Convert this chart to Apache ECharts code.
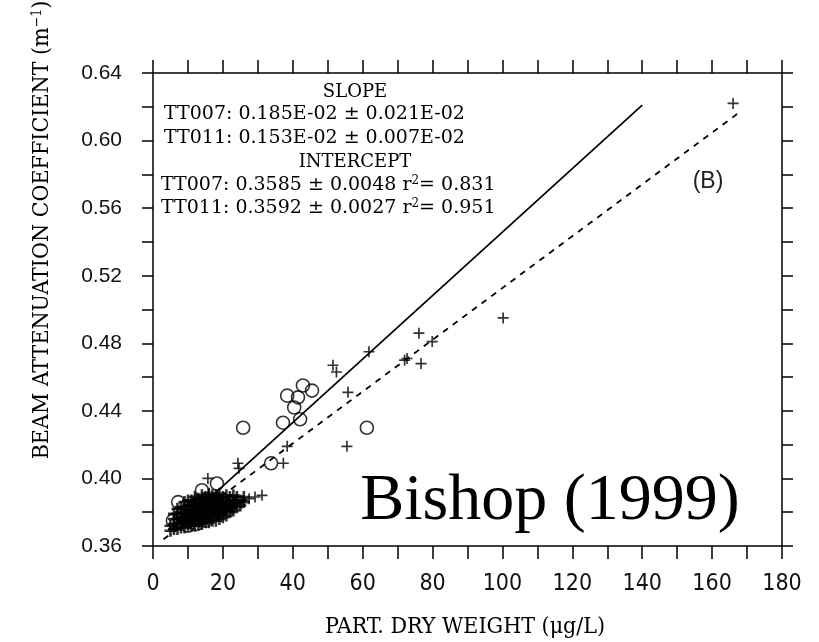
<!DOCTYPE html>
<html><head><meta charset="utf-8">
<script src="https://cdn.jsdelivr.net/npm/echarts@6/dist/echarts.min.js"></script>
<style>html,body{margin:0;padding:0;background:#fff}#c{width:819px;height:642px}</style>
</head><body><div id="c"></div>
<script>
// Axis setup
var xMin = 0, xMax = 180, xStep = 10;
var yMin = 0.36, yMax = 0.64, yStep = 0.02;

// TT007 (open circles)
var tt007 = [
  [5.7,0.375],[7.2,0.386],[14.0,0.393],[18.3,0.397],[25.8,0.430],[33.8,0.409],
  [37.2,0.433],[38.4,0.449],[40.4,0.442],[41.5,0.448],[42.1,0.435],[42.9,0.455],
  [45.5,0.452],[61.2,0.430],
  [10.0,0.372],[12.5,0.373],[15.0,0.375]
];

// TT011 (plus signs) outside the dense cluster
var tt011 = [
  [166.0,0.622],[100.2,0.495],[76.1,0.486],[79.9,0.481],[72.7,0.471],[72.0,0.470],
  [76.7,0.468],[61.8,0.475],[55.8,0.451],[55.5,0.419],[51.5,0.467],[52.5,0.463],
  [38.4,0.419],[24.3,0.409],[24.6,0.406],[37.3,0.409],[15.7,0.400],[25.8,0.387],
  [27.5,0.388],[29.2,0.389],[31.2,0.390]
];

// Dense cluster of low-concentration samples (both cruises, overprinted)
var cluster = [
  [5,0.369],[5,0.372],
  [6,0.370],[6,0.373],[6,0.376],[6,0.379],
  [7,0.370],[7,0.373],[7,0.376],[7,0.379],[7,0.382],
  [8,0.371],[8,0.374],[8,0.377],[8,0.380],[8,0.383],
  [9,0.371],[9,0.374],[9,0.377],[9,0.380],[9,0.383],[9,0.386],
  [10,0.372],[10,0.375],[10,0.378],[10,0.381],[10,0.384],[10,0.387],
  [11,0.372],[11,0.375],[11,0.378],[11,0.381],[11,0.384],[11,0.387],
  [12,0.372],[12,0.375],[12,0.378],[12,0.381],[12,0.384],[12,0.387],[12,0.389],
  [13,0.373],[13,0.376],[13,0.379],[13,0.382],[13,0.385],[13,0.388],
  [14,0.373],[14,0.376],[14,0.379],[14,0.382],[14,0.385],[14,0.388],[14,0.390],
  [15,0.374],[15,0.377],[15,0.380],[15,0.383],[15,0.386],[15,0.389],
  [16,0.374],[16,0.377],[16,0.380],[16,0.383],[16,0.386],[16,0.389],[16,0.391],
  [17,0.375],[17,0.378],[17,0.381],[17,0.384],[17,0.387],[17,0.390],
  [18,0.375],[18,0.378],[18,0.381],[18,0.384],[18,0.387],[18,0.390],
  [19,0.376],[19,0.379],[19,0.382],[19,0.385],[19,0.388],[19,0.391],
  [20,0.377],[20,0.380],[20,0.383],[20,0.386],[20,0.389],
  [21,0.378],[21,0.381],[21,0.384],[21,0.387],[21,0.390],
  [22,0.380],[22,0.383],[22,0.386],[22,0.389],
  [23,0.381],[23,0.384],[23,0.387],[23,0.390],
  [24,0.383],[24,0.386],[24,0.389],
  [25,0.384],[25,0.387],
  [26,0.386],[26,0.389],
  [8.5,0.3755],[9.5,0.3785],[10.5,0.3735],[10.5,0.3815],[11.5,0.3765],[11.5,0.3855],
  [12.5,0.3795],[13.5,0.3745],[13.5,0.3835],[14.5,0.3775],[14.5,0.3865],[15.5,0.3815],
  [16.5,0.3785],[16.5,0.3875],[17.5,0.3825],[18.5,0.3795],[18.5,0.3885],[19.5,0.3845],
  [20.5,0.3815],[21.5,0.3855],[22.5,0.3825],[23.5,0.3855]
];

// Regression lines (endpoints)
var fit007 = [[8,0.373],[140,0.621]];
var fit011 = [[3,0.364],[168,0.617]];

// Annotation text
var annoLines = [
  'SLOPE',
  'TT007: 0.185E-02 \u00b1 0.021E-02',
  'TT011: 0.153E-02 \u00b1 0.007E-02',
  'INTERCEPT',
  'TT007: 0.3585 \u00b1 0.0048 ',
  'TT011: 0.3592 \u00b1 0.0027 '
];
var r2 = ['0.831','0.951'];

var serif = "'DejaVu Serif', serif";
var condSerif = "'DejaVu Serif Condensed','Liberation Serif',serif";
var black = '#000';
var chart = echarts.init(document.getElementById('c'));
var axisLine = {show:true, onZero:false, lineStyle:{color:black, width:1.5}};
var tickX = {show:true, inside:false, length:13, lineStyle:{color:black, width:1.5}};
var tickY = {show:true, inside:false, length:11, lineStyle:{color:black, width:1.5}};
var plusPath = 'path://M0,5L10,5M5,0L5,10';

chart.setOption({
  animation:false,
  backgroundColor:'#fff',
  grid:{left:153, right:37, top:73, bottom:96},
  xAxis:[
    {type:'value', min:xMin, max:xMax, interval:xStep, position:'bottom',
     axisLine:axisLine, axisTick:tickX, splitLine:{show:false},
     axisLabel:{margin:27, fontSize:23, color:'#111', fontFamily:"'Liberation Sans Narrow','DejaVu Sans Condensed',sans-serif",
       formatter:function(v){return (Math.round(v)%20===0)?String(Math.round(v)):'';}}},
    {type:'value', min:xMin, max:xMax, interval:xStep, position:'top',
     axisLine:axisLine, axisTick:tickX, splitLine:{show:false}, axisLabel:{show:false}}
  ],
  yAxis:[
    {type:'value', min:yMin, max:yMax, interval:yStep, position:'left',
     axisLine:axisLine, axisTick:tickY, splitLine:{show:false},
     axisLabel:{margin:31, fontSize:21, color:'#111', fontFamily:"'Liberation Sans',Arial,sans-serif",
       formatter:function(v){return (Math.round(v*100)%4===0)?v.toFixed(2):'';}}},
    {type:'value', min:yMin, max:yMax, interval:yStep, position:'right',
     axisLine:axisLine, axisTick:tickY, splitLine:{show:false}, axisLabel:{show:false}}
  ],
  series:[
    {type:'line', data:fit007, symbol:'none', lineStyle:{color:black, width:1.7}, z:3},
    {type:'line', data:fit011, symbol:'none', lineStyle:{color:black, width:1.8, type:[6,6]}, z:3},
    {type:'scatter', data:cluster, symbol:plusPath, symbolSize:12,
     itemStyle:{color:'rgba(0,0,0,0)', borderColor:black, borderWidth:2.6}, z:4},
    {type:'scatter', data:tt011, symbol:plusPath, symbolSize:11,
     itemStyle:{color:'rgba(0,0,0,0)', borderColor:black, borderWidth:1.7}, z:4},
    {type:'scatter', data:tt007, symbol:'circle', symbolSize:13,
     itemStyle:{color:'rgba(0,0,0,0)', borderColor:black, borderWidth:1.6}, z:5}
  ],
  graphic:[
    {type:'text', x:355, y:92, style:{text:annoLines[0], font:'18px '+serif, fill:black, align:'center', verticalAlign:'middle'}},
    {type:'text', x:164, y:114, style:{text:annoLines[1], font:'19px '+serif, fill:black, align:'left', verticalAlign:'middle'}},
    {type:'text', x:164, y:138, style:{text:annoLines[2], font:'19px '+serif, fill:black, align:'left', verticalAlign:'middle'}},
    {type:'text', x:355, y:162, style:{text:annoLines[3], font:'18px '+serif, fill:black, align:'center', verticalAlign:'middle'}},
    {type:'text', x:161, y:185, style:{text:'{a|'+annoLines[4]+'r}{s|2}{a|= '+r2[0]+'}', verticalAlign:'middle', align:'left',
      rich:{a:{fontSize:19, fontFamily:serif, color:black}, s:{fontSize:12, fontFamily:serif, color:black, padding:[0,0,9,0]}}}},
    {type:'text', x:161, y:208, style:{text:'{a|'+annoLines[5]+'r}{s|2}{a|= '+r2[1]+'}', verticalAlign:'middle', align:'left',
      rich:{a:{fontSize:19, fontFamily:serif, color:black}, s:{fontSize:12, fontFamily:serif, color:black, padding:[0,0,9,0]}}}},
    {type:'text', x:708, y:182, style:{text:'(B)', font:'23px "Liberation Sans",Arial,sans-serif', fill:'#222', align:'center', verticalAlign:'middle'}},
    {type:'text', x:550, y:502, style:{text:'Bishop (1999)', font:'66px "Liberation Serif","Times New Roman",serif', fill:black, align:'center', verticalAlign:'middle'}, z:10},
    {type:'text', x:465, y:627, style:{text:'PART. DRY WEIGHT (\u03bcg/L)', font:'23px '+condSerif, fill:black, align:'center', verticalAlign:'middle'}},
    {type:'text', x:42, y:230, rotation:Math.PI/2, style:{text:'{a|BEAM ATTENUATION COEFFICIENT (m}{s|\u22121}{a|)}', align:'center', verticalAlign:'middle',
      rich:{a:{fontSize:23, fontFamily:condSerif, color:black}, s:{fontSize:14, fontFamily:condSerif, color:black, padding:[0,0,10,0]}}}}
  ]
});
</script></body></html>
